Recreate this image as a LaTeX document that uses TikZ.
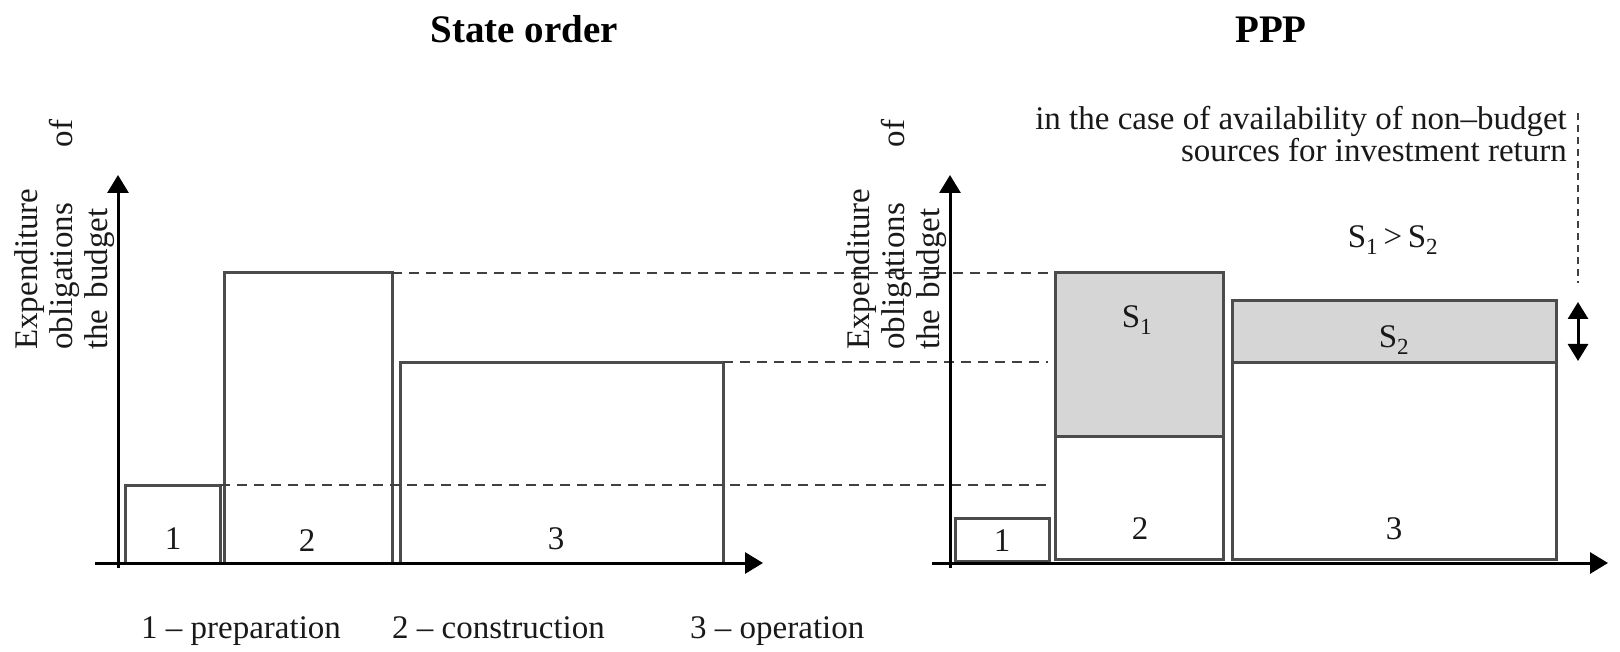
\documentclass[tikz,border=0pt]{standalone}
\usepackage{fontspec}
\setmainfont{Liberation Serif}
\usetikzlibrary{arrows.meta}
\begin{document}
\begin{tikzpicture}[x=1pt,y=-1pt,
  txt/.style={font=\fontsize{33}{35}\selectfont, inner sep=0pt, text=black!90},
  ttl/.style={font=\fontsize{39}{44}\selectfont\bfseries, inner sep=0pt},
  ylab/.style={txt, rotate=90, anchor=north west, text width=230pt, align=left},
  axis/.style={line width=3pt, -{Triangle[length=18pt,width=21pt]}},
  bar/.style={draw=black!70, line width=3pt},
  shade/.style={bar, fill=black!16},
  guide/.style={draw=black!75, line width=2.6pt, dash pattern=on 10pt off 7pt},
  vguide/.style={draw=black!75, line width=2.6pt, dash pattern=on 7pt off 5pt},
  dbl/.style={line width=3pt, {Triangle[length=17pt,width=20pt]}-{Triangle[length=17pt,width=20pt]}},
]
\useasboundingbox (0,0) rectangle (1620,652);

% ---------- titles
\node[ttl, anchor=base] (t1) at (524,43) {State order};
\node[ttl, anchor=base] (t2) at (1271,43) {PPP};

% ---------- left chart boxes
\draw[bar] (125,485) rectangle (220,563);
\draw[bar] (224,273) rectangle (392,563);
\draw[bar] (400,362) rectangle (723,563);

% ---------- right chart boxes
\draw[bar] (955,518) rectangle (1049,561);
\draw[bar] (1055,436) rectangle (1223,559);
\draw[shade] (1055,273) rectangle (1223,436);
\draw[bar] (1232,362) rectangle (1556,559);
\draw[shade] (1232,301) rectangle (1556,362);

% ---------- guide (dashed) lines
\coordinate (g1a) at (392,273); \coordinate (g1b) at (1048,273);
\coordinate (g2a) at (723,362); \coordinate (g2b) at (1048,362);
\coordinate (g3a) at (220,485); \coordinate (g3b) at (1048,485);
\draw[guide] (g1a) -- (g1b);
\draw[guide] (g2a) -- (g2b);
\draw[guide] (g3a) -- (g3b);

% ---------- axes
\coordinate (ly0) at (118,568); \coordinate (ly1) at (118,175);
\coordinate (lx0) at (95,563);  \coordinate (lx1) at (763,563);
\coordinate (ry0) at (950,568); \coordinate (ry1) at (950,175);
\coordinate (rx0) at (932,563); \coordinate (rx1) at (1608,563);
\draw[axis] (ly0) -- (ly1);
\draw[axis] (lx0) -- (lx1);
\draw[axis] (ry0) -- (ry1);
\draw[axis] (rx0) -- (rx1);

% ---------- right side markers
\coordinate (v0) at (1578,113); \coordinate (v1) at (1578,283);
\coordinate (d0) at (1578,302); \coordinate (d1) at (1578,361);
\draw[vguide] (v0) -- (v1);
\draw[dbl] (d0) -- (d1);

% ---------- y-axis labels
\node[ylab] (yl1) at (14,350) {Expenditure\\obligations\hfill of\\the budget};
\node[ylab] (yl2) at (846,350) {Expenditure\\obligations\hfill of\\the budget};

% ---------- box labels
\node[txt, anchor=base] (l1) at (173,549) {1};
\node[txt, anchor=base] (l2) at (307,551) {2};
\node[txt, anchor=base] (l3) at (556,549) {3};
\node[txt, anchor=base] (r1) at (1002,551) {1};
\node[txt, anchor=base] (r2) at (1140,539) {2};
\node[txt, anchor=base] (r3) at (1394,539) {3};
\node[txt, anchor=base] (s1) at (1137,328) {S\textsubscript{1}};
\node[txt, anchor=base] (s2) at (1394,348) {S\textsubscript{2}};
\node[txt, anchor=base] (cmp) at (1393,248) {S\textsubscript{1}\,>\,S\textsubscript{2}};

% ---------- note
\node[txt, anchor=base east] (n1) at (1567,130) {in the case of availability of non–budget};
\node[txt, anchor=base east] (n2) at (1567,162) {sources for investment return};

% ---------- legend
\node[txt, anchor=base west] (lg1) at (141,638) {1 – preparation};
\node[txt, anchor=base west] (lg2) at (392,638) {2 – construction};
\node[txt, anchor=base west] (lg3) at (690,638) {3 – operation};
\end{tikzpicture}
\end{document}
